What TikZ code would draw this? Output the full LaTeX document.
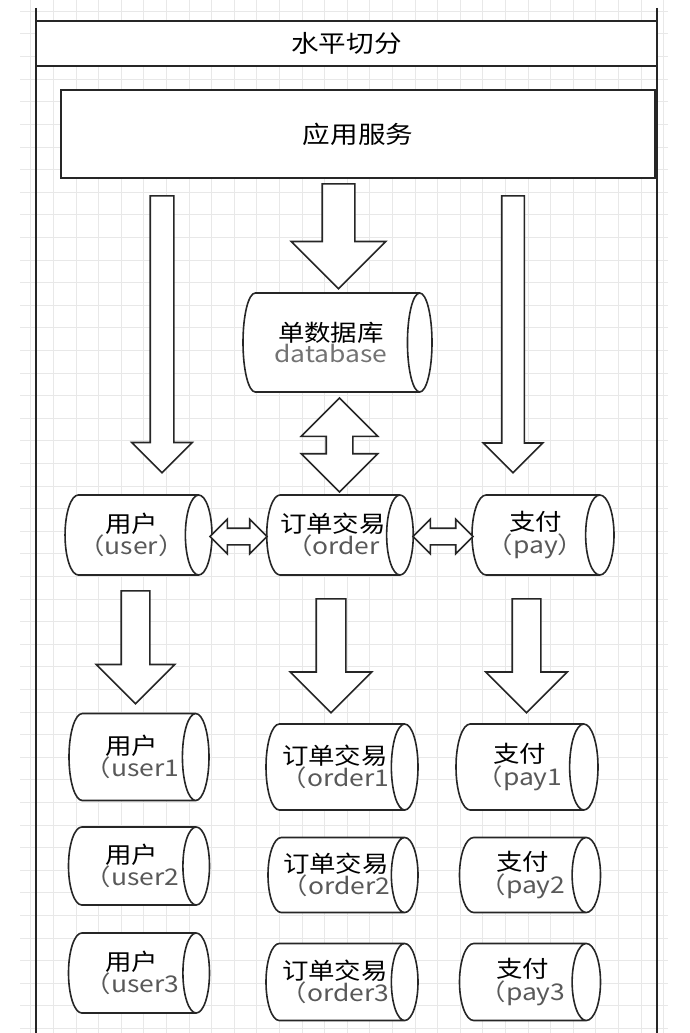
\documentclass[tikz,border=0pt]{standalone}
\usepackage{fontspec}
\setmainfont{Noto Sans CJK SC}[FakeStretch=1.15]
\usetikzlibrary{shapes.geometric,shapes.arrows}

\begin{document}
\begin{tikzpicture}[x=1pt, y=-1pt,
  line/.style={draw=black!85, line width=1.6pt},
  gridline/.style={draw=black!9, line width=0.6pt},
  box/.style={line, fill=white, inner sep=0pt, font=\fontsize{24}{26}\selectfont},
  db/.style={line, fill=white, cylinder, aspect=0.6, anchor=shape center, align=center,
    inner sep=0pt, font=\fontsize{23}{20}\selectfont},
  flow/.style={line, fill=white, single arrow, rotate=-90, anchor=tail, inner sep=0pt, text depth=0pt},
  twoway/.style={line, fill=white, double arrow, inner sep=0pt, text depth=0pt}
]
\useasboundingbox (0,0) rectangle (689,1033);
\fill[white] (0,0) rectangle (689,1033);
% grid
\foreach \k in {1,...,29}
  \draw[gridline] (8.1+22.6*\k,0) -- (8.1+22.6*\k,1033);
\foreach \k in {0,...,45}
  \draw[gridline] (20,11.2+22.6*\k) -- (668,11.2+22.6*\k);
% pool
\draw[line] (36,8) -- (36,1033);
\draw[line] (657,8) -- (657,1033);
\node[box, minimum width=621pt, minimum height=45pt] (title) at (346.5,43.5) {水平切分};
\node[box, minimum width=594pt, minimum height=88pt] (app) at (358,134) {应用服务};

% cylinders: minimum height = length, minimum width = thickness
\node[db, minimum height=189pt, minimum width=99pt] (db) at (337.5,342.5) {单数据库\\\textcolor{black!55}{database}};
\node[db, minimum height=139pt, minimum width=80pt] (user) at (138.5,535) {用户\\\textcolor{black!65}{（user）}};
\node[db, minimum height=142pt, minimum width=80pt] (order) at (340,535) {订单交易\\\textcolor{black!65}{（order}};
\node[db, minimum height=142pt, minimum width=80pt] (pay) at (543,535) {支付\\\textcolor{black!65}{（pay）}};

\node[db, minimum height=140pt, minimum width=87pt] (user1) at (139,757) {用户\\\textcolor{black!65}{（user1}};
\node[db, minimum height=152pt, minimum width=86pt] (order1) at (342,767) {订单交易\\\textcolor{black!65}{（order1}};
\node[db, minimum height=142pt, minimum width=86pt] (pay1) at (527,767) {支付\\\textcolor{black!65}{（pay1}};
\node[db, minimum height=141pt, minimum width=78pt] (user2) at (139,866) {用户\\\textcolor{black!65}{（user2}};
\node[db, minimum height=150pt, minimum width=75pt] (order2) at (343,875) {订单交易\\\textcolor{black!65}{（order2}};
\node[db, minimum height=141pt, minimum width=75pt] (pay2) at (530,875) {支付\\\textcolor{black!65}{（pay2}};
\node[db, minimum height=141pt, minimum width=80pt] (user3) at (139,973) {用户\\\textcolor{black!65}{（user3}};
\node[db, minimum height=152pt, minimum width=77pt] (order3) at (342,982) {订单交易\\\textcolor{black!65}{（order3}};
\node[db, minimum height=141pt, minimum width=77pt] (pay3) at (530,982) {支付\\\textcolor{black!65}{（pay3}};

% block arrows
\node[flow, minimum height=277pt, text height=22pt, single arrow head extend=18.5pt] (a1) at (162,195) {};
\node[flow, minimum height=105pt, text height=31pt, single arrow head extend=31pt] (a2) at (338.5,183) {};
\node[flow, minimum height=277pt, text height=21pt, single arrow head extend=18.5pt] (a3) at (513,195) {};
\node[flow, minimum height=113pt, text height=27pt, single arrow head extend=25pt] (b1) at (135.5,590) {};
\node[flow, minimum height=114pt, text height=28pt, single arrow head extend=26pt] (b2) at (331,598) {};
\node[flow, minimum height=114pt, text height=27pt, single arrow head extend=26.5pt] (b3) at (526.5,598) {};
\node[twoway, rotate=90, minimum height=94pt, text height=25pt, double arrow head extend=25pt] (d0) at (339.5,445) {};
\node[twoway, minimum height=57pt, text height=15pt, double arrow head extend=9pt] (d1) at (238.5,536.5) {};
\node[twoway, minimum height=60pt, text height=15pt, double arrow head extend=9pt] (d2) at (443,536.5) {};
\end{tikzpicture}
\end{document}
